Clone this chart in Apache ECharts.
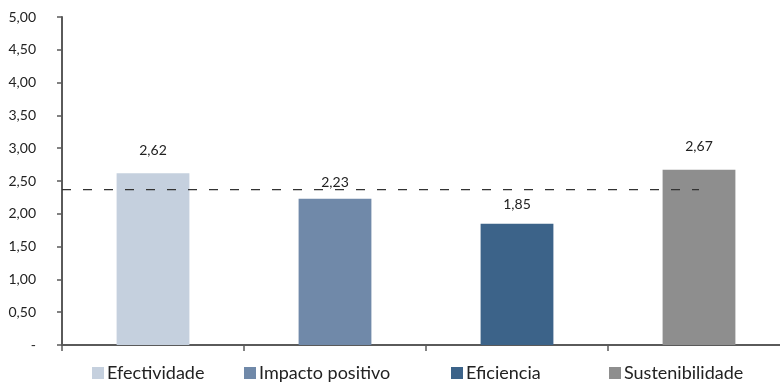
<!DOCTYPE html>
<html>
<head>
<meta charset="utf-8">
<script src="https://cdn.jsdelivr.net/npm/echarts@6/dist/echarts.min.js"></script>
<style>
    html, body { margin: 0; padding: 0; background: #fff; overflow: hidden; }
    #main { width: 800px; height: 384px; }
</style>
</head>
<body>
<div id="main"></div>
<script>
    // datos
    var categorias = ['Efectividade', 'Impacto positivo', 'Eficiencia', 'Sustenibilidade'];
    var valores = [2.62, 2.23, 1.85, 2.67];
    var colores = ['#c5d0de', '#7089a9', '#3c6389', '#8e8e8e'];
    var promedio = 2.37;
    var legendLeft = [92, 244, 451, 609];
    var labelDist = [16, 9, 12, 16];

    var fmt = function (v) {
        return Number(v).toFixed(2).replace('.', ',');
    };

    var series = categorias.map(function (c, i) {
        var d = categorias.map(function (x, j) { return j === i ? valores[i] : null; });
        return {
            name: c,
            type: 'bar',
            barWidth: '40%',
            barGap: '-100%',
            itemStyle: { color: colores[i] },
            label: {
                show: true,
                position: 'top',
                distance: labelDist[i],
                fontFamily: 'Lato',
                fontSize: 14,
                color: '#222',
                formatter: function (p) { return fmt(p.value); }
            },
            data: d
        };
    });

    // linea de promedio (eje x auxiliar numerico)
    series.push({
        name: 'promedio',
        type: 'line',
        xAxisIndex: 1,
        symbol: 'none',
        z: 5,
        lineStyle: { color: '#333', width: 1.3, type: [9, 12] },
        data: [[0, promedio], [3.5, promedio]]
    });

    var legends = categorias.map(function (c, i) {
        return {
            data: [c],
            left: legendLeft[i],
            top: 364,
            itemWidth: 12,
            itemHeight: 12,
            itemGap: 0,
            icon: 'rect',
            textStyle: { fontFamily: 'Lato', fontSize: 18, color: '#222', padding: [0, 0, 0, -2] },
            padding: 0
        };
    });

    var chart = echarts.init(document.getElementById('main'));
    chart.setOption({
        animation: false,
        legend: legends,
        grid: { left: 62, top: 17, width: 728, height: 328, containLabel: false },
        xAxis: [{
            type: 'category',
            data: categorias,
            axisLine: { lineStyle: { color: '#5a5a5a', width: 2 } },
            axisTick: { show: true, length: 6, lineStyle: { color: '#5a5a5a', width: 1.5 } },
            axisLabel: { show: false }
        }, {
            type: 'value',
            min: 0,
            max: 4,
            show: false
        }],
        yAxis: {
            type: 'value',
            min: 0,
            max: 5,
            interval: 0.5,
            splitLine: { show: false },
            axisLine: { show: true, lineStyle: { color: '#5a5a5a', width: 2 } },
            axisTick: { show: true, length: 5, lineStyle: { color: '#5a5a5a', width: 1.5 } },
            axisLabel: {
                margin: 26,
                fontFamily: 'Lato',
                fontSize: 14,
                color: '#222',
                formatter: function (v) { return v === 0 ? '-' : fmt(v); }
            }
        },
        series: series
    });
</script>
</body>
</html>
